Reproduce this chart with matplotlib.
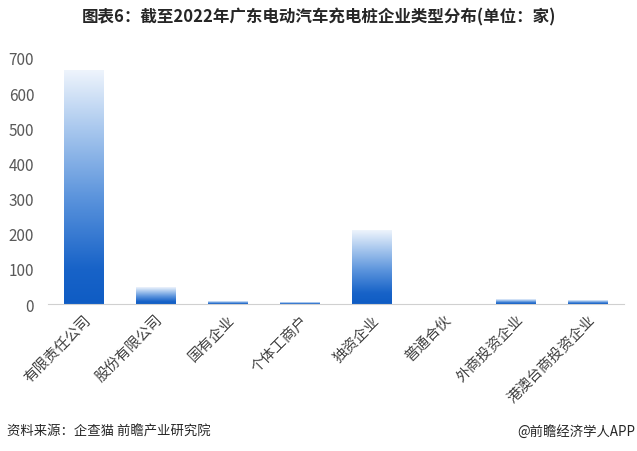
import matplotlib
matplotlib.use('Agg')
import matplotlib.pyplot as plt
import numpy as np
from matplotlib.colors import LinearSegmentedColormap

plt.rcParams['font.family'] = ['Noto Sans CJK SC', 'DejaVu Sans']

categories = ['有限责任公司', '股份有限公司', '国有企业', '个体工商户',
              '独资企业', '普通合伙', '外商投资企业', '港澳台商投资企业']
counts = [664, 47, 6, 3, 209, 0, 14, 11]
yticks = [0, 100, 200, 300, 400, 500, 600, 700]

title = '图表6：截至2022年广东电动汽车充电桩企业类型分布(单位：家)'
source = '资料来源：企查猫 前瞻产业研究院'
credit = '@前瞻经济学人APP'

# dark blue at the bottom fading to near white at the top
cmap = LinearSegmentedColormap.from_list(
    'bar', [(0.0, '#0f5cc4'), (0.15, '#1863c8'), (0.45, '#5a93dc'),
            (0.75, '#a9c8ee'), (1.0, '#eef4fc')])

fig = plt.figure(figsize=(6.37, 4.52), dpi=100)
ax = fig.add_axes([0.0754, 0.3252, 0.9046, 0.5443])

x = np.arange(len(categories))
width = 0.555
grad = np.linspace(0, 1, 256).reshape(-1, 1)
for xi, v in zip(x, counts):
    if v <= 0:
        continue
    ax.imshow(grad, cmap=cmap, origin='lower', aspect='auto',
              extent=[xi - width / 2, xi + width / 2, 0, v], zorder=2)

ax.set_xlim(-0.5, len(categories) - 0.5)
ax.set_ylim(0, 700)
ax.set_yticks(yticks)
ax.set_xticks(x)
ax.set_xticklabels(categories, rotation=45, ha='right', rotation_mode='anchor',
                   fontsize=10.5, color='#404040')
ax.tick_params(axis='y', labelsize=11, colors='#595959', length=0, pad=10)
ax.tick_params(axis='x', length=0, pad=6)
for s in ['top', 'right', 'left']:
    ax.spines[s].set_visible(False)
ax.spines['bottom'].set_color('#d0d0d0')

fig.text(0.5, 0.962, title, ha='center', va='center', fontsize=11.9,
         fontweight='bold', color='#262626')
fig.text(0.011, 0.044, source, ha='left', va='center', fontsize=9.6, color='#262626')
fig.text(0.998, 0.044, credit, ha='right', va='center', fontsize=9.6, color='#262626')

fig.savefig('out.png', dpi=100)
